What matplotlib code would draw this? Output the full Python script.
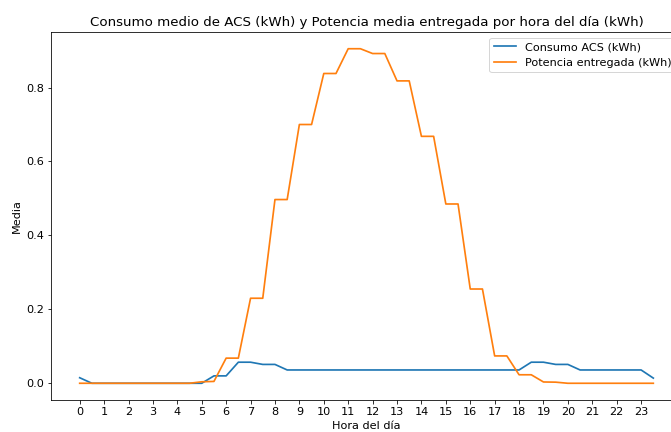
import matplotlib
matplotlib.use("Agg")
import matplotlib.pyplot as plt

horas = [h / 2 for h in range(48)]

consumo_acs = [
    0.015, 0.0, 0.0, 0.0, 0.0, 0.0, 0.0, 0.0, 0.0, 0.0,
    0.0, 0.02, 0.02, 0.057, 0.057, 0.051, 0.051, 0.036, 0.036, 0.036,
    0.036, 0.036, 0.036, 0.036, 0.036, 0.036, 0.036, 0.036, 0.036, 0.036,
    0.036, 0.036, 0.036, 0.036, 0.036, 0.036, 0.036, 0.057, 0.057, 0.051,
    0.051, 0.036, 0.036, 0.036, 0.036, 0.036, 0.036, 0.014,
]

potencia_entregada = [
    0.0, 0.0, 0.0, 0.0, 0.0, 0.0, 0.0, 0.0, 0.0, 0.0,
    0.004, 0.005, 0.068, 0.068, 0.23, 0.23, 0.497, 0.497, 0.70, 0.70,
    0.838, 0.838, 0.905, 0.905, 0.892, 0.892, 0.818, 0.818, 0.668, 0.668,
    0.485, 0.485, 0.255, 0.255, 0.074, 0.074, 0.023, 0.023, 0.0035, 0.003,
    0.0, 0.0, 0.0, 0.0, 0.0, 0.0, 0.0, 0.0,
]

plt.rcParams["font.size"] = 11.2
plt.rcParams["axes.titlesize"] = 13.4
plt.rcParams["lines.linewidth"] = 1.7

fig = plt.figure(figsize=(671 / 72, 432 / 72), dpi=72)
# the original figure is wider; the right edge is cut off
ax = fig.add_axes([51 / 671, 32 / 432, 631 / 671, 368 / 432])

ax.plot(horas, consumo_acs, label="Consumo ACS (kWh)")
ax.plot(horas, potencia_entregada, label="Potencia entregada (kWh)")

ax.set_title("Consumo medio de ACS (kWh) y Potencia media entregada por hora del día (kWh)")
ax.set_xlabel("Hora del día")
ax.set_ylabel("Media")
ax.set_xticks(range(24))
ax.legend(loc="upper right")

fig.savefig("out.png", dpi=72)
plt.close(fig)
